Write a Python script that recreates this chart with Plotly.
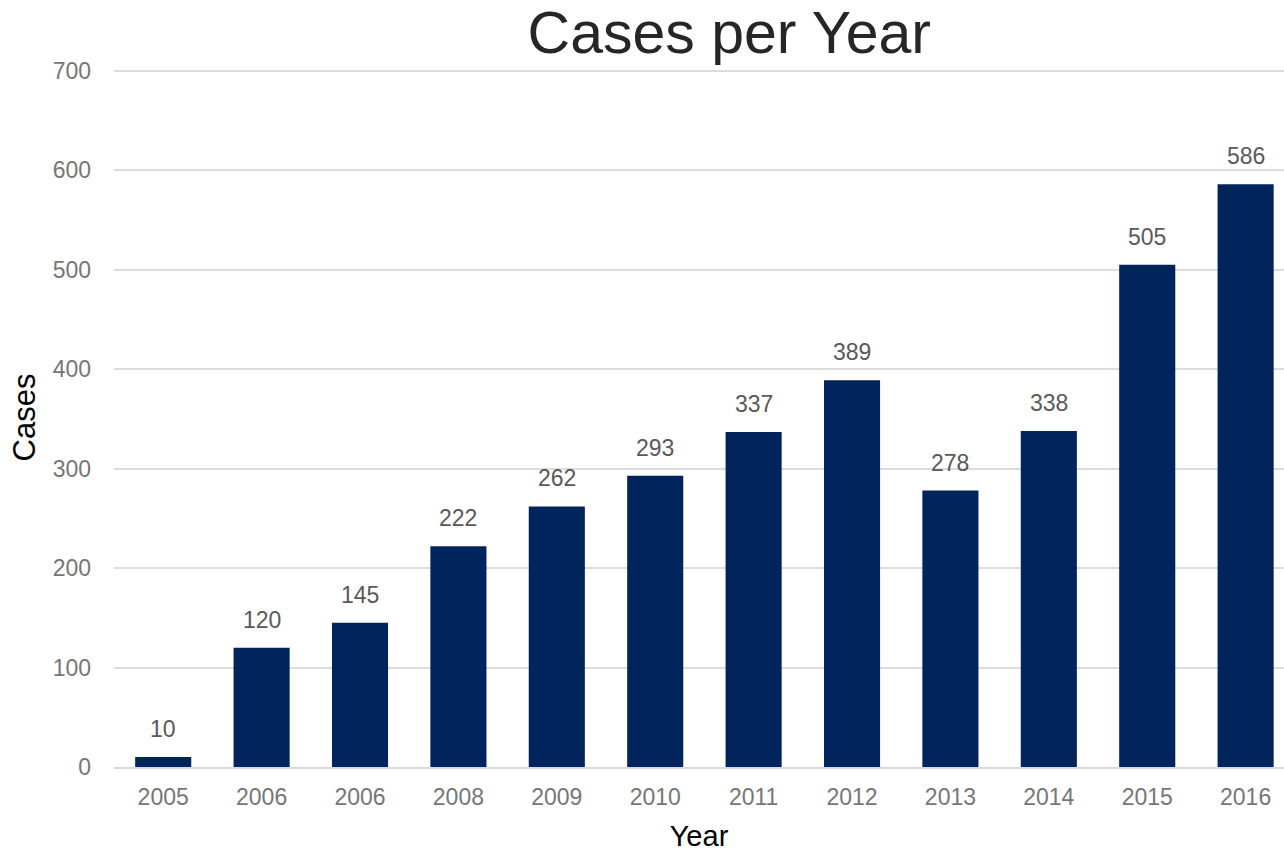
import plotly.graph_objects as go

# Annual case counts
years = ["2005", "2006", "2006", "2008", "2009", "2010",
         "2011", "2012", "2013", "2014", "2015", "2016"]
cases = [10, 120, 145, 222, 262, 293, 337, 389, 278, 338, 505, 586]
y_ticks = [0, 100, 200, 300, 400, 500, 600, 700]

positions = list(range(len(years)))
bar_color = "#00245B"
font_family = "Liberation Sans, Arial, sans-serif"

fig = go.Figure()
fig.add_trace(go.Bar(
    x=positions,
    y=cases,
    width=0.57,
    marker=dict(color=bar_color, line=dict(width=0)),
    hoverinfo="x+y",
))

# value labels above each bar
for xi, v in zip(positions, cases):
    fig.add_annotation(
        x=xi, y=v, text=str(v), showarrow=False,
        yanchor="bottom", yshift=13,
        font=dict(family=font_family, size=23, color="#595959"),
    )

fig.update_layout(
    width=1284, height=852,
    margin=dict(l=114, r=0, t=68, b=85),
    plot_bgcolor="white", paper_bgcolor="white",
    showlegend=False,
    font=dict(family=font_family),
    title=dict(
        text="Cases per Year",
        x=0.568, xanchor="center",
        y=0.986, yanchor="top",
        font=dict(family=font_family, size=59, color="#262626"),
    ),
    xaxis=dict(
        tickmode="array", tickvals=positions, ticktext=years,
        range=[-0.5, 11.39],
        showgrid=False, zeroline=False,
        showline=True, linecolor="#d9d9d9", linewidth=2,
        ticks="", tickfont=dict(size=23, color="#767676"),
        ticklabelstandoff=8,
        title=dict(text="Year", font=dict(size=29, color="black"), standoff=18),
    ),
    yaxis=dict(
        range=[0, 703], tickvals=y_ticks,
        showgrid=True, gridcolor="#dcdcdc", gridwidth=1.5,
        zeroline=False, ticks="",
        tickfont=dict(size=23, color="#767676"),
        ticklabelstandoff=22,
        title=dict(text="Cases", font=dict(size=31, color="black"), standoff=7),
    ),
)

fig.write_html("out.html")
